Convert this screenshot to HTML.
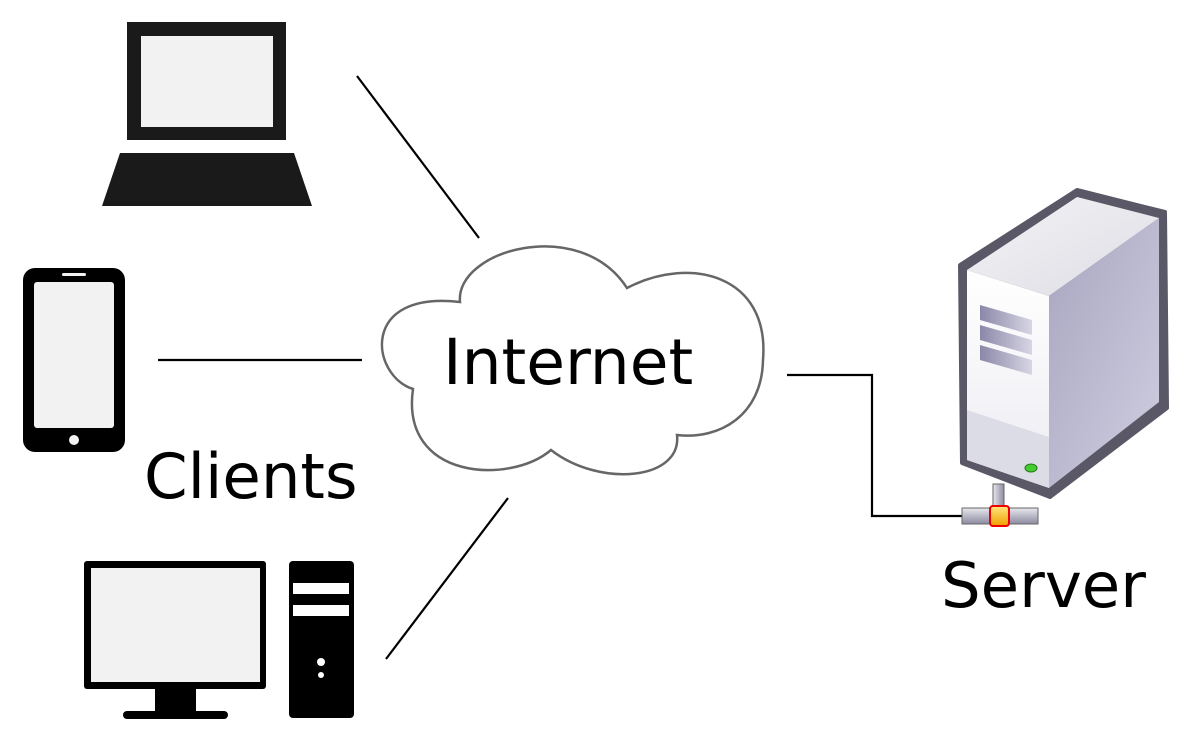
<!DOCTYPE html>
<html><head><meta charset="utf-8"><style>
html,body{margin:0;padding:0;background:#fff;}
svg{display:block;}
text{font-family:"DejaVu Sans","Liberation Sans",sans-serif;fill:#000;}
</style></head><body>
<svg width="1199" height="748" viewBox="0 0 1199 748" xmlns="http://www.w3.org/2000/svg">
<defs>
<linearGradient id="top" x1="0" y1="0" x2="1" y2="1"><stop offset="0" stop-color="#f4f4f6"/><stop offset="1" stop-color="#dcdce4"/></linearGradient>
<linearGradient id="side" x1="0" y1="0" x2="1" y2="1"><stop offset="0" stop-color="#a8a6c0"/><stop offset="1" stop-color="#d0cee0"/></linearGradient>
<linearGradient id="front" x1="0" y1="0" x2="0" y2="1"><stop offset="0" stop-color="#ffffff"/><stop offset="1" stop-color="#ececf2"/></linearGradient>
<linearGradient id="slot" x1="0" y1="0" x2="1" y2="0"><stop offset="0" stop-color="#8a88a8"/><stop offset="1" stop-color="#d8d6e4"/></linearGradient>
<linearGradient id="pipe" x1="0" y1="0" x2="0" y2="1"><stop offset="0" stop-color="#e8e8ee"/><stop offset="1" stop-color="#8c8aa0"/></linearGradient>
<linearGradient id="vpipe" x1="0" y1="0" x2="1" y2="0"><stop offset="0" stop-color="#e8e8ee"/><stop offset="1" stop-color="#8c8aa0"/></linearGradient>
<linearGradient id="orange" x1="0" y1="0" x2="0" y2="1"><stop offset="0" stop-color="#ffe680"/><stop offset="1" stop-color="#f0a000"/></linearGradient>
</defs>

<g stroke="#000" stroke-width="2.2" fill="none">
<line x1="357" y1="76" x2="479" y2="238"/>
<line x1="158" y1="360" x2="362" y2="360"/>
<line x1="386" y1="659" x2="508" y2="498"/>
<polyline points="787,375 872,375 872,516 962,516"/>
</g>

<rect x="127" y="22" width="159" height="118" fill="#1a1a1a"/>
<rect x="141" y="36" width="132" height="91" fill="#f2f2f2"/>
<polygon points="120,153 294,153 312,206 102,206" fill="#1a1a1a"/>

<rect x="23" y="268" width="102" height="184" rx="12" fill="#000"/>
<rect x="34" y="282" width="80" height="146" rx="3" fill="#f2f2f2"/>
<rect x="62" y="273" width="24" height="3" rx="1.5" fill="#f2f2f2"/>
<circle cx="74" cy="440" r="5" fill="#f2f2f2"/>

<rect x="84" y="561" width="182" height="128" rx="3" fill="#000"/>
<rect x="91" y="568" width="169" height="114" fill="#f2f2f2"/>
<rect x="155" y="688" width="41" height="25" fill="#000"/>
<rect x="123" y="711" width="105" height="8" rx="4" fill="#000"/>
<rect x="289" y="561" width="65" height="157" rx="4" fill="#000"/>
<rect x="293" y="583" width="56" height="11" fill="#fff"/>
<rect x="293" y="605" width="56" height="11" fill="#fff"/>
<circle cx="321" cy="662" r="4" fill="#fff"/>
<circle cx="321" cy="675" r="3" fill="#fff"/>

<path d="M460,302 C455,250 580,215 627,288 C690,255 770,275 763,360 C762,415 720,440 677,435 C682,480 600,488 551,450 C510,485 400,480 413,389 C370,375 360,290 460,302 Z" fill="#fff" stroke="#666" stroke-width="2.5"/>

<polygon points="960,265 1077,190 1165,212 1167,408 1050,497 962,463" fill="#5a5866" stroke="#5a5866" stroke-width="4" stroke-linejoin="round"/>
<polygon points="967,270 1077,197 1159,218 1049,296" fill="url(#top)"/>
<polygon points="1049,296 1159,218 1159,402 1049,488" fill="url(#side)"/>
<polygon points="967,270 1049,296 1049,488 967,460" fill="url(#front)"/>
<polygon points="967,410 1049,437 1049,488 967,460" fill="#dcdce6"/>
<polygon points="980,305 1032,320 1032,335 980,320" fill="url(#slot)"/>
<polygon points="980,325 1032,340 1032,355 980,340" fill="url(#slot)"/>
<polygon points="980,345 1032,360 1032,375 980,360" fill="url(#slot)"/>
<ellipse cx="1031" cy="468" rx="6" ry="4" fill="#44cc33" stroke="#227711" stroke-width="1"/>
<rect x="993" y="484" width="11" height="26" fill="url(#vpipe)" stroke="#666" stroke-width="1"/>
<rect x="962" y="508" width="76" height="16" fill="url(#pipe)" stroke="#666" stroke-width="1"/>
<rect x="990" y="506" width="19" height="20" rx="3" fill="url(#orange)" stroke="#e00" stroke-width="2"/>

<text x="443" y="384" font-size="63">Internet</text>
<text x="144" y="498" font-size="62.5">Clients</text>
<text x="941" y="607" font-size="62.5">Server</text>
</svg>
</body></html>
